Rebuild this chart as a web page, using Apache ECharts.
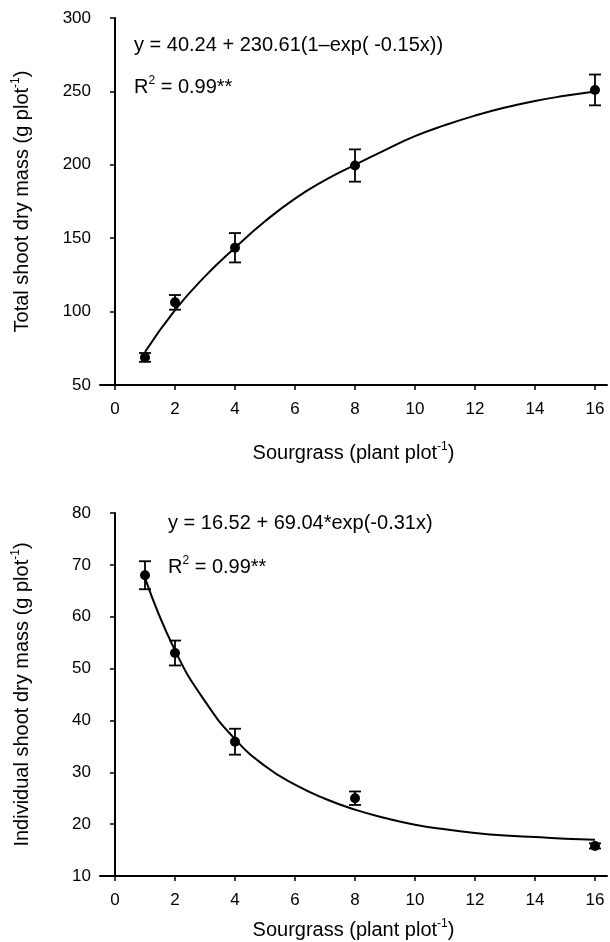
<!DOCTYPE html>
<html style="height: 100%">
<head>
<meta charset="utf-8">
</head>
<body style="height: 100%; margin: 0; background: #fff">
<div id="container" style="width: 610px; height: 942px"></div>
<script src="https://cdn.jsdelivr.net/npm/echarts@6/dist/echarts.min.js"></script>
<script>
// sourgrass density (plants per plot)
var xTicks = [0, 2, 4, 6, 8, 10, 12, 14, 16];
var doses = [1, 2, 4, 8, 16];

// total shoot dry mass, means and error half-widths
var totalMean = [68.8, 106.3, 143.5, 199.5, 251];
var totalErr = [3, 5, 10, 11, 10.5];
// individual shoot dry mass
var indivMean = [68, 53, 35.9, 25, 15.8];
var indivErr = [2.7, 2.4, 2.5, 1.3, 0.5];

// fitted curves
var fitX = [1, 2, 3, 4, 5, 6, 7, 8, 9, 10, 11, 12, 13, 14, 15, 16];
var totalFit = [72.5, 101, 124, 143.5, 161.5, 177, 189.5, 200, 210, 219.5, 227, 233.5, 239, 243.5, 247, 250];
var indivFit = [67.5, 53.5, 43.7, 36.4, 31.2, 27.6, 24.9, 22.8, 21.2, 19.9, 19.0, 18.3, 17.8, 17.5, 17.2, 17.0];

var font = "'Liberation Sans', Arial, sans-serif";
var ink = '#000';

function pairs(xs, ys) {
	return xs.map(function (x, i) { return [x, ys[i]]; });
}
function triples(xs, ys, es) {
	return xs.map(function (x, i) { return [x, ys[i], es[i]]; });
}

function errorBars(params, api) {
	var x = api.value(0), y = api.value(1), e = api.value(2);
	var hi = api.coord([x, y + e]);
	var lo = api.coord([x, y - e]);
	var w = 6;
	var st = { stroke: ink, lineWidth: 1.8 };
	return {
		type: 'group',
		children: [
			{ type: 'line', shape: { x1: hi[0], y1: hi[1], x2: lo[0], y2: lo[1] }, style: st },
			{ type: 'line', shape: { x1: hi[0] - w, y1: hi[1], x2: hi[0] + w, y2: hi[1] }, style: st },
			{ type: 'line', shape: { x1: lo[0] - w, y1: lo[1], x2: lo[0] + w, y2: lo[1] }, style: st }
		]
	};
}

var supRich = {
	n: { fontSize: 20, fontFamily: font, color: ink, lineHeight: 24 },
	s: { fontSize: 12, fontFamily: font, color: ink, verticalAlign: 'top', lineHeight: 24, padding: [0, 0, 7, 0] }
};
var eqRich = {
	a: { fontSize: 20, fontFamily: font, color: ink, lineHeight: 24 },
	b: { fontSize: 12, fontFamily: font, color: ink, verticalAlign: 'top', lineHeight: 24, padding: [0, 0, 9, 0] }
};

function xAxisOf(gi, gap) {
	return {
		type: 'value', gridIndex: gi, min: -0.5, max: 16.4,
		name: '{n|Sourgrass (plant plot}{s|-1}{n|)}',
		nameLocation: 'middle', nameGap: gap,
		nameTextStyle: { rich: supRich },
		axisLine: { onZero: false, lineStyle: { color: ink, width: 2 } },
		axisTick: { length: 5, customValues: xTicks, lineStyle: { color: ink, width: 1.5 } },
		axisLabel: { customValues: xTicks, margin: 16, fontSize: 17, fontFamily: font, color: ink },
		splitLine: { show: false }
	};
}

function yAxisOf(gi, min, max, step, title) {
	return {
		type: 'value', gridIndex: gi, min: min, max: max, interval: step,
		name: '{n|' + title + ' (g plot}{s|-1}{n|)}',
		nameLocation: 'middle', nameGap: 66, nameRotate: 90,
		nameTextStyle: { rich: supRich },
		axisLine: { show: true, lineStyle: { color: ink, width: 2 } },
		axisTick: { show: true, length: 5, lineStyle: { color: ink, width: 1.5 } },
		axisLabel: { margin: 9, fontSize: 17, fontFamily: font, color: ink },
		splitLine: { show: false }
	};
}

var chart = echarts.init(document.getElementById('container'));
chart.setOption({
	backgroundColor: '#fff',
	animation: false,
	grid: [
		{ left: 100, top: 18, width: 507, height: 367 },
		{ left: 100, top: 513, width: 507, height: 363 }
	],
	xAxis: [xAxisOf(0, 56), xAxisOf(1, 42)],
	yAxis: [
		yAxisOf(0, 50, 300, 50, 'Total shoot dry mass'),
		yAxisOf(1, 10, 80, 10, 'Individual shoot dry mass')
	],
	series: [
		{ type: 'line', xAxisIndex: 0, yAxisIndex: 0, data: pairs(fitX, totalFit), smooth: true, showSymbol: false,
			lineStyle: { color: ink, width: 2 } },
		{ type: 'custom', xAxisIndex: 0, yAxisIndex: 0, data: triples(doses, totalMean, totalErr), renderItem: errorBars, z: 3 },
		{ type: 'scatter', xAxisIndex: 0, yAxisIndex: 0, data: pairs(doses, totalMean), symbolSize: 10,
			itemStyle: { color: ink, opacity: 1 }, z: 4 },
		{ type: 'line', xAxisIndex: 1, yAxisIndex: 1, data: pairs(fitX, indivFit), smooth: true, showSymbol: false,
			lineStyle: { color: ink, width: 2 } },
		{ type: 'custom', xAxisIndex: 1, yAxisIndex: 1, data: triples(doses, indivMean, indivErr), renderItem: errorBars, z: 3 },
		{ type: 'scatter', xAxisIndex: 1, yAxisIndex: 1, data: pairs(doses, indivMean), symbolSize: 10,
			itemStyle: { color: ink, opacity: 1 }, z: 4 }
	],
	graphic: [
		{ type: 'text', left: 134, top: 35, style: { text: '{a|y = 40.24 + 230.61(1\u2013exp( -0.15x))}', rich: eqRich } },
		{ type: 'text', left: 134, top: 75, style: { text: '{a|R}{b|2}{a| = 0.99**}', rich: eqRich } },
		{ type: 'text', left: 168, top: 513, style: { text: '{a|y = 16.52 + 69.04*exp(-0.31x)}', rich: eqRich } },
		{ type: 'text', left: 168, top: 555, style: { text: '{a|R}{b|2}{a| = 0.99**}', rich: eqRich } }
	]
});
</script>
</body>
</html>
